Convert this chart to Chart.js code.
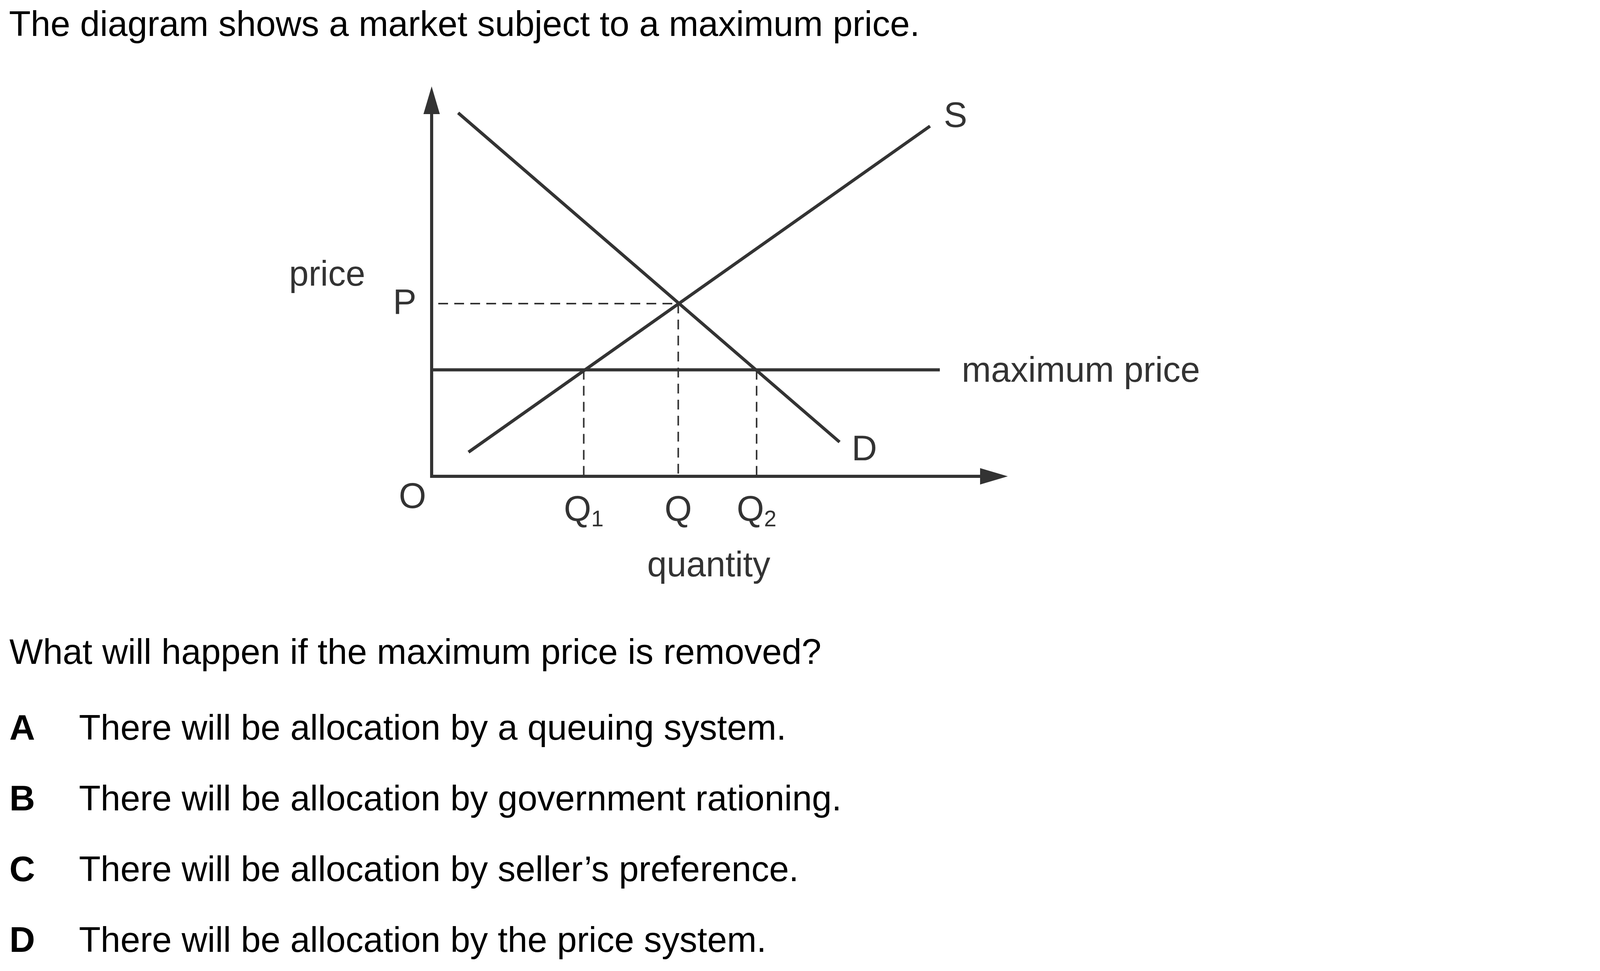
<!DOCTYPE html>
<html>
<head>
<meta charset="utf-8">
<script src="https://cdn.jsdelivr.net/npm/chart.js@4"></script>
<style>
  body { margin: 0; background: #fff; }
  #wrap { position: relative; width: 4201px; height: 2485px; overflow: hidden; }
  #chart { position: absolute; left: 0; top: 0; }
  .txt { position: absolute; font-family: "Liberation Sans", Arial, sans-serif; font-size: 91px; line-height: 1; color: #000; white-space: nowrap; }
  .opt b { position: absolute; left: 0; }
  .opt span { position: absolute; left: 178px; }
</style>
</head>
<body>
<div id="wrap">
  <canvas id="chart" width="4201" height="2485"></canvas>
  <div class="txt" style="left:23px; top:15px">The diagram shows a market subject to a maximum price.</div>
  <div class="txt" style="left:24px; top:1622px">What will happen if the maximum price is removed?</div>
  <div class="txt opt" style="left:24px; top:1816px"><b>A</b><span>There will be allocation by a queuing system.</span></div>
  <div class="txt opt" style="left:24px; top:1997px"><b>B</b><span>There will be allocation by government rationing.</span></div>
  <div class="txt opt" style="left:24px; top:2178px"><b>C</b><span>There will be allocation by seller’s preference.</span></div>
  <div class="txt opt" style="left:24px; top:2359px"><b>D</b><span>There will be allocation by the price system.</span></div>
</div>
<script>
// quantity on x (0-100), price on y (0-100)
var demandX = [4.6, 70.8];
var demandY = [93.2, 8.8];
var supplyX = [6.4, 86.5];
var supplyY = [6.2, 89.8];
var maxPrice = 27.3;
var maxPriceEnd = 88.2;
var eqPrice = 44.3;
var pLineStart = 1.15;
var qValues = [26.4, 42.8, 56.4];
var qLabels = ["Q", "Q", "Q"];
var qSubs = ["1", "", "2"];

var ink = "#333";
var fontName = '"Liberation Sans", Arial, sans-serif';

function pts(xs, ys) {
  return xs.map(function (x, i) { return {x: x, y: ys[i]}; });
}

var dashed = {borderColor: ink, borderWidth: 4, borderDash: [25, 16], pointRadius: 0, showLine: true, fill: false};
var solid = {borderColor: ink, borderWidth: 8, pointRadius: 0, showLine: true, fill: false};

var datasets = [
  Object.assign({data: pts(demandX, demandY)}, solid),
  Object.assign({data: pts(supplyX, supplyY)}, solid),
  Object.assign({data: pts([0, maxPriceEnd], [maxPrice, maxPrice])}, solid),
  Object.assign({data: pts([pLineStart, qValues[1]], [eqPrice, eqPrice])}, dashed),
  Object.assign({data: pts([qValues[0], qValues[0]], [maxPrice, 0])}, dashed),
  Object.assign({data: pts([qValues[1], qValues[1]], [eqPrice, 0])}, dashed),
  Object.assign({data: pts([qValues[2], qValues[2]], [maxPrice, 0])}, dashed)
];

var axesAndLabels = {
  id: "axesAndLabels",
  beforeDatasetsDraw: function (chart) {
    var c = chart.ctx, xs = chart.scales.x, ys = chart.scales.y;
    var x0 = xs.getPixelForValue(0), y0 = ys.getPixelForValue(0);
    var xTip = xs.getPixelForValue(100), yTip = ys.getPixelForValue(100);
    var len = 71, half = 21;
    c.save();
    c.strokeStyle = ink; c.fillStyle = ink; c.lineWidth = 8; c.lineCap = "butt";
    c.beginPath();
    c.moveTo(x0, y0 + 4); c.lineTo(x0, yTip + len);
    c.moveTo(x0 - 4, y0); c.lineTo(xTip - len, y0);
    c.stroke();
    c.beginPath();
    c.moveTo(x0, yTip); c.lineTo(x0 - half, yTip + len); c.lineTo(x0 + half, yTip + len); c.closePath();
    c.fill();
    c.beginPath();
    c.moveTo(xTip, y0); c.lineTo(xTip - len, y0 - half); c.lineTo(xTip - len, y0 + half); c.closePath();
    c.fill();
    c.restore();
  },
  afterDraw: function (chart) {
    var c = chart.ctx, xs = chart.scales.x, ys = chart.scales.y;
    var x0 = xs.getPixelForValue(0), y0 = ys.getPixelForValue(0);
    c.save();
    c.fillStyle = ink;
    c.textBaseline = "alphabetic";
    c.font = "90px " + fontName;

    c.textAlign = "right";
    c.fillText("price", 935, 731);
    c.fillText("P", x0 - 39, ys.getPixelForValue(eqPrice) + 26);
    c.textAlign = "center";
    c.fillText("O", x0 - 49, y0 + 81);
    c.fillText("quantity", xs.getPixelForValue(48.1), y0 + 256);

    c.textAlign = "left";
    var sEnd = {x: xs.getPixelForValue(supplyX[1]), y: ys.getPixelForValue(supplyY[1])};
    c.fillText("S", sEnd.x + 35, sEnd.y + 2);
    var dEnd = {x: xs.getPixelForValue(demandX[1]), y: ys.getPixelForValue(demandY[1])};
    c.fillText("D", dEnd.x + 31, dEnd.y + 47);
    c.fillText("maximum price", xs.getPixelForValue(maxPriceEnd) + 56, ys.getPixelForValue(maxPrice) + 30);

    // Q labels with subscripts, centred on each quantity
    qValues.forEach(function (q, i) {
      c.font = "90px " + fontName;
      var wq = c.measureText(qLabels[i]).width;
      c.font = "57px " + fontName;
      var ws = qSubs[i] ? c.measureText(qSubs[i]).width : 0;
      var left = xs.getPixelForValue(q) - (wq + ws) / 2;
      c.font = "90px " + fontName;
      c.fillText(qLabels[i], left, y0 + 114);
      if (qSubs[i]) {
        c.font = "57px " + fontName;
        c.fillText(qSubs[i], left + wq, y0 + 128);
      }
    });
    c.restore();
  }
};

new Chart("chart", {
  type: "scatter",
  data: {datasets: datasets},
  options: {
    responsive: false,
    devicePixelRatio: 1,
    animation: false,
    layout: {padding: {left: 1105, right: 1621, top: 221, bottom: 1266}},
    scales: {
      x: {type: "linear", min: 0, max: 100, display: false},
      y: {type: "linear", min: 0, max: 100, display: false}
    },
    elements: {line: {tension: 0}},
    datasets: {scatter: {clip: false}},
    plugins: {legend: {display: false}, tooltip: {enabled: false}}
  },
  plugins: [axesAndLabels]
});
</script>
</body>
</html>
